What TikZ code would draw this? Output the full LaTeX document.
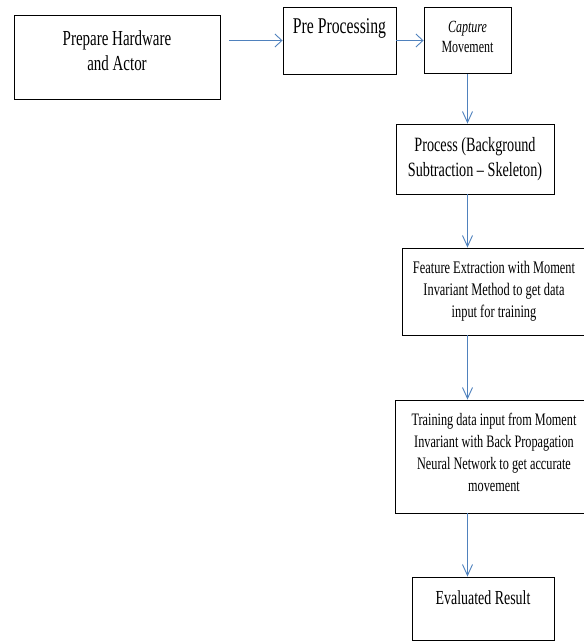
\documentclass[tikz,border=0pt]{standalone}
\usepackage{fontspec}
\setmainfont[FakeStretch=0.7]{Liberation Serif}
\usetikzlibrary{arrows.meta}
\definecolor{arrowblue}{RGB}{79,129,189}

\begin{document}
\begin{tikzpicture}[x=1pt,y=1pt,node distance=0pt,
    box/.style={draw,line width=0.9pt,align=center,inner sep=2pt},
    harr/.style={draw=arrowblue,line width=0.9pt,-{Straight Barb[length=7pt,width=13pt]}},
    varr/.style={draw=arrowblue,line width=0.9pt,-{Straight Barb[length=11pt,width=10pt]}}]
  \useasboundingbox (0,0) rectangle (584,-641);

  \node [box,minimum width=206pt,minimum height=84pt,text depth=12pt,font=\fontsize{21.4}{25}\selectfont] (prep) at (117,-57) {Prepare Hardware\\and Actor};
  \node [box,right of=prep,xshift=222.5pt,yshift=16.5pt,minimum width=113pt,minimum height=67pt,text depth=28pt,font=\fontsize{22.5}{25}\selectfont] (pre) {Pre Processing};
  \node [box,right of=pre,xshift=128pt,minimum width=87pt,minimum height=66pt,text depth=7pt,font=\fontsize{17.1}{20}\selectfont] (cap) {\textit{Capture}\\Movement};
  \node [box,below of=cap,xshift=7.5pt,yshift=-118.5pt,minimum width=158pt,minimum height=70pt,font=\fontsize{20.3}{25}\selectfont] (proc) {Process (Background\\Subtraction -- Skeleton)};
  \node [box,below of=proc,xshift=19pt,yshift=-132.5pt,minimum width=184pt,minimum height=87pt,font=\fontsize{17.7}{22}\selectfont] (feat) {Feature Extraction with Moment\\Invariant Method to get data\\input for training};
  \node [box,below of=feat,yshift=-165pt,minimum width=197pt,minimum height=113pt,text depth=9pt,font=\fontsize{17.5}{22}\selectfont] (train) {Training data input from Moment\\Invariant with Back Propagation\\Neural Network to get accurate\\movement};
  \node [box,below of=train,xshift=-11pt,yshift=-152pt,minimum width=142pt,minimum height=63pt,text depth=22.5pt,font=\fontsize{19.9}{22}\selectfont] (eval) {Evaluated Result};

  \draw[harr,shorten <=9pt] (prep.east |- pre.west) -- (pre.west);
  \draw[harr] (pre.east) -- (cap.west);
  \draw[varr] (cap.south) -- (cap.south |- proc.north);
  \draw[varr] (cap.south |- proc.south) -- (cap.south |- feat.north);
  \draw[varr] (cap.south |- feat.south) -- (cap.south |- train.north);
  \draw[varr] (cap.south |- train.south) -- (cap.south |- eval.north);
\end{tikzpicture}
\end{document}
